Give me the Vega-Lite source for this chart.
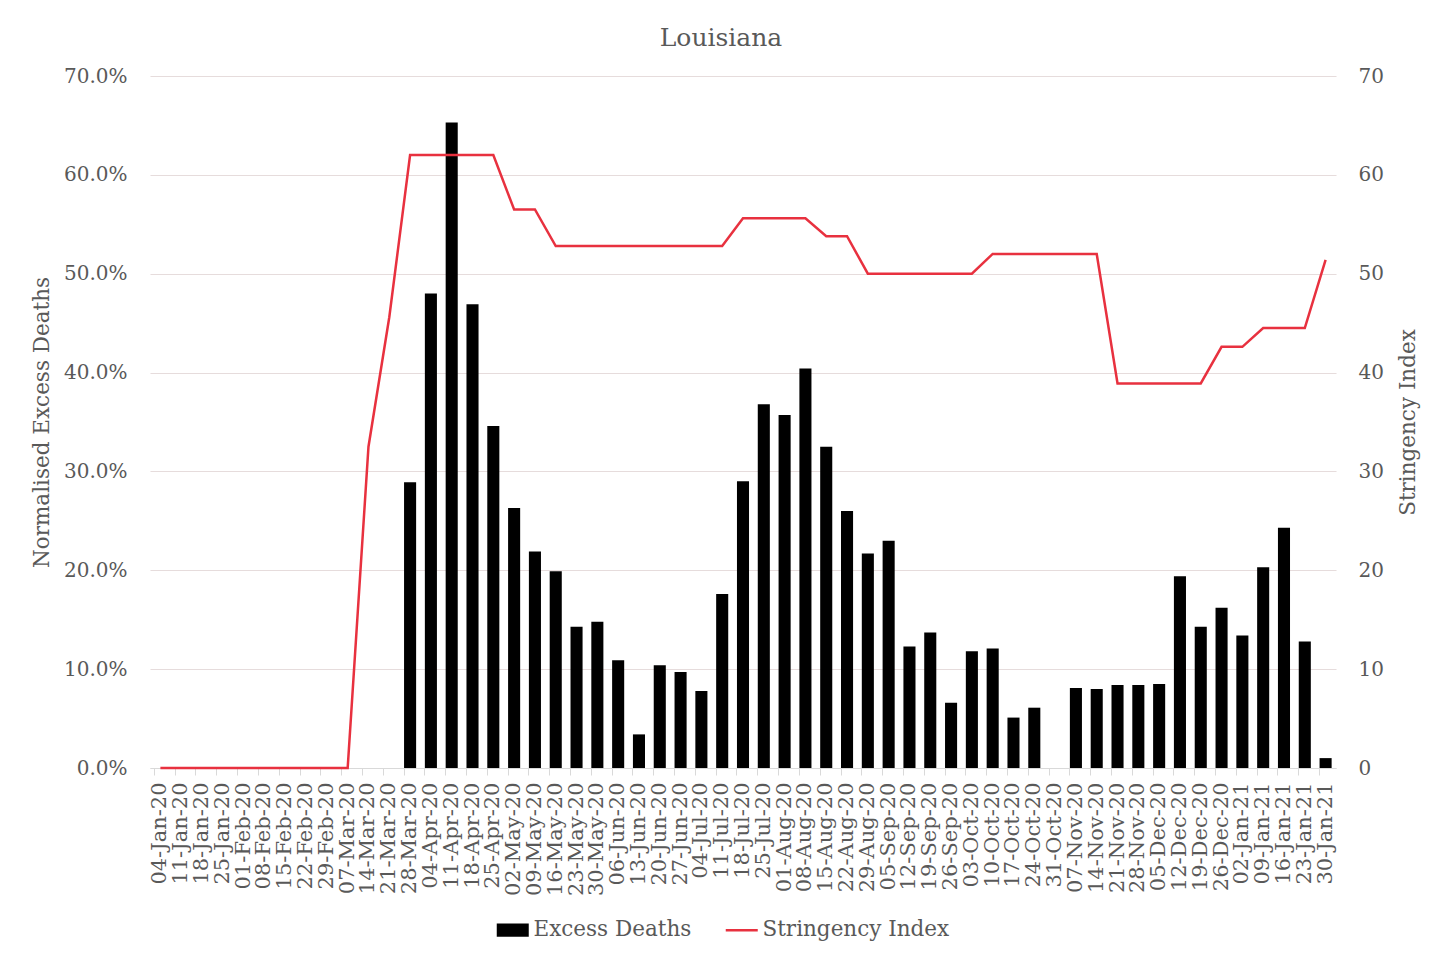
{
  "$schema": "https://vega.github.io/schema/vega-lite/v6.json",
  "width": 1186,
  "height": 692,
  "autosize": "none",
  "padding": {"left": 150, "top": 76, "right": 110, "bottom": 185},
  "background": "white",
  "config": {
    "font": "DejaVu Serif",
    "view": {"stroke": null},
    "axis": {"labelColor": "#595959", "titleColor": "#595959", "titleFontWeight": "normal", "labelFont": "DejaVu Serif", "titleFont": "DejaVu Serif"},
    "legend": {"labelFont": "DejaVu Serif", "labelColor": "#595959"}
  },
  "title": {"text": "Louisiana", "fontSize": 25, "font": "DejaVu Serif", "fontWeight": "normal", "color": "#595959", "anchor": "middle", "offset": 15, "dx": -22},
  "data": {
    "values": [
      {"week": "04-Jan-20", "excess": null, "stringency": 0},
      {"week": "11-Jan-20", "excess": null, "stringency": 0},
      {"week": "18-Jan-20", "excess": null, "stringency": 0},
      {"week": "25-Jan-20", "excess": null, "stringency": 0},
      {"week": "01-Feb-20", "excess": null, "stringency": 0},
      {"week": "08-Feb-20", "excess": null, "stringency": 0},
      {"week": "15-Feb-20", "excess": null, "stringency": 0},
      {"week": "22-Feb-20", "excess": null, "stringency": 0},
      {"week": "29-Feb-20", "excess": null, "stringency": 0},
      {"week": "07-Mar-20", "excess": null, "stringency": 0},
      {"week": "14-Mar-20", "excess": null, "stringency": 32.5},
      {"week": "21-Mar-20", "excess": null, "stringency": 45.6},
      {"week": "28-Mar-20", "excess": 0.289, "stringency": 62.0},
      {"week": "04-Apr-20", "excess": 0.480, "stringency": 62.0},
      {"week": "11-Apr-20", "excess": 0.653, "stringency": 62.0},
      {"week": "18-Apr-20", "excess": 0.469, "stringency": 62.0},
      {"week": "25-Apr-20", "excess": 0.346, "stringency": 62.0},
      {"week": "02-May-20", "excess": 0.263, "stringency": 56.5},
      {"week": "09-May-20", "excess": 0.219, "stringency": 56.5},
      {"week": "16-May-20", "excess": 0.199, "stringency": 52.8},
      {"week": "23-May-20", "excess": 0.143, "stringency": 52.8},
      {"week": "30-May-20", "excess": 0.148, "stringency": 52.8},
      {"week": "06-Jun-20", "excess": 0.109, "stringency": 52.8},
      {"week": "13-Jun-20", "excess": 0.034, "stringency": 52.8},
      {"week": "20-Jun-20", "excess": 0.104, "stringency": 52.8},
      {"week": "27-Jun-20", "excess": 0.097, "stringency": 52.8},
      {"week": "04-Jul-20", "excess": 0.078, "stringency": 52.8},
      {"week": "11-Jul-20", "excess": 0.176, "stringency": 52.8},
      {"week": "18-Jul-20", "excess": 0.290, "stringency": 55.6},
      {"week": "25-Jul-20", "excess": 0.368, "stringency": 55.6},
      {"week": "01-Aug-20", "excess": 0.357, "stringency": 55.6},
      {"week": "08-Aug-20", "excess": 0.404, "stringency": 55.6},
      {"week": "15-Aug-20", "excess": 0.325, "stringency": 53.8},
      {"week": "22-Aug-20", "excess": 0.260, "stringency": 53.8},
      {"week": "29-Aug-20", "excess": 0.217, "stringency": 50.0},
      {"week": "05-Sep-20", "excess": 0.230, "stringency": 50.0},
      {"week": "12-Sep-20", "excess": 0.123, "stringency": 50.0},
      {"week": "19-Sep-20", "excess": 0.137, "stringency": 50.0},
      {"week": "26-Sep-20", "excess": 0.066, "stringency": 50.0},
      {"week": "03-Oct-20", "excess": 0.118, "stringency": 50.0},
      {"week": "10-Oct-20", "excess": 0.121, "stringency": 52.0},
      {"week": "17-Oct-20", "excess": 0.051, "stringency": 52.0},
      {"week": "24-Oct-20", "excess": 0.061, "stringency": 52.0},
      {"week": "31-Oct-20", "excess": null, "stringency": 52.0},
      {"week": "07-Nov-20", "excess": 0.081, "stringency": 52.0},
      {"week": "14-Nov-20", "excess": 0.080, "stringency": 52.0},
      {"week": "21-Nov-20", "excess": 0.084, "stringency": 38.9},
      {"week": "28-Nov-20", "excess": 0.084, "stringency": 38.9},
      {"week": "05-Dec-20", "excess": 0.085, "stringency": 38.9},
      {"week": "12-Dec-20", "excess": 0.194, "stringency": 38.9},
      {"week": "19-Dec-20", "excess": 0.143, "stringency": 38.9},
      {"week": "26-Dec-20", "excess": 0.162, "stringency": 42.6},
      {"week": "02-Jan-21", "excess": 0.134, "stringency": 42.6},
      {"week": "09-Jan-21", "excess": 0.203, "stringency": 44.5},
      {"week": "16-Jan-21", "excess": 0.243, "stringency": 44.5},
      {"week": "23-Jan-21", "excess": 0.128, "stringency": 44.5},
      {"week": "30-Jan-21", "excess": 0.010, "stringency": 51.4}
    ]
  },
  "encoding": {
    "x": {
      "field": "week",
      "type": "nominal",
      "sort": null,
      "scale": {
        "paddingInner": 0.42,
        "paddingOuter": 0.21,
        "domain": ["04-Jan-20","11-Jan-20","18-Jan-20","25-Jan-20","01-Feb-20","08-Feb-20","15-Feb-20","22-Feb-20","29-Feb-20","07-Mar-20","14-Mar-20","21-Mar-20","28-Mar-20","04-Apr-20","11-Apr-20","18-Apr-20","25-Apr-20","02-May-20","09-May-20","16-May-20","23-May-20","30-May-20","06-Jun-20","13-Jun-20","20-Jun-20","27-Jun-20","04-Jul-20","11-Jul-20","18-Jul-20","25-Jul-20","01-Aug-20","08-Aug-20","15-Aug-20","22-Aug-20","29-Aug-20","05-Sep-20","12-Sep-20","19-Sep-20","26-Sep-20","03-Oct-20","10-Oct-20","17-Oct-20","24-Oct-20","31-Oct-20","07-Nov-20","14-Nov-20","21-Nov-20","28-Nov-20","05-Dec-20","12-Dec-20","19-Dec-20","26-Dec-20","02-Jan-21","09-Jan-21","16-Jan-21","23-Jan-21","30-Jan-21"]
      },
      "axis": {
        "title": null,
        "labelAngle": -90,
        "labelFontSize": 21,
        "labelPadding": 7,
        "labelOverlap": false,
        "labelBound": false,
        "bandPosition": 0,
        "tickColor": "#d9d9d9",
        "tickSize": 7,
        "domainColor": "#d9d9d9",
        "grid": false
      }
    }
  },
  "layer": [
    {
      "mark": {"type": "bar", "color": "black"},
      "encoding": {
        "y": {
          "field": "excess",
          "type": "quantitative",
          "scale": {"domain": [0, 0.7]},
          "axis": {
            "title": "Normalised Excess Deaths",
            "format": ".1%",
            "values": [0, 0.1, 0.2, 0.3, 0.4, 0.5, 0.6, 0.7],
            "ticks": false,
            "domain": false,
            "labelFontSize": 20,
            "labelPadding": 23,
            "titleFontSize": 21.5,
            "titlePadding": 10,
            "grid": true,
            "gridColor": "#e6dcdc",
            "gridWidth": 1.2
          }
        },
        "color": {
          "datum": "Excess Deaths",
          "type": "nominal",
          "scale": {"domain": ["Excess Deaths", "Stringency Index"], "range": ["black", "#e8313f"]},
          "legend": {
            "title": null,
            "orient": "none",
            "direction": "horizontal",
            "legendX": 352,
            "legendY": 843,
            "padding": 0,
            "labelFontSize": 21.5,
            "labelOffset": 10,
            "labelLimit": 0,
            "columnPadding": 28,
            "symbolSize": 1024,
            "symbolStrokeWidth": 2.5,
            "encode": {
              "symbols": {
                "update": {
                  "shape": {"signal": "datum.value === 'Excess Deaths' ? 'M-1,-0.42H1V0.42H-1Z' : 'stroke'"},
                  "fill": {"signal": "datum.value === 'Excess Deaths' ? 'black' : 'transparent'"},
                  "stroke": {"signal": "datum.value === 'Excess Deaths' ? 'black' : '#e8313f'"},
                  "strokeWidth": {"signal": "datum.value === 'Excess Deaths' ? 0 : 2.5"}
                }
              }
            }
          }
        }
      }
    },
    {
      "mark": {"type": "line", "strokeWidth": 2.5, "color": "#e8313f"},
      "encoding": {
        "y": {
          "field": "stringency",
          "type": "quantitative",
          "scale": {"domain": [0, 70]},
          "axis": {
            "orient": "right",
            "title": "Stringency Index",
            "titleAngle": -90,
            "values": [0, 10, 20, 30, 40, 50, 60, 70],
            "ticks": false,
            "domain": false,
            "grid": false,
            "labelFontSize": 20,
            "labelPadding": 22,
            "titleFontSize": 21.5,
            "titlePadding": 36
          }
        },
        "color": {"datum": "Stringency Index", "type": "nominal"}
      }
    }
  ],
  "resolve": {"scale": {"y": "independent"}}
}
